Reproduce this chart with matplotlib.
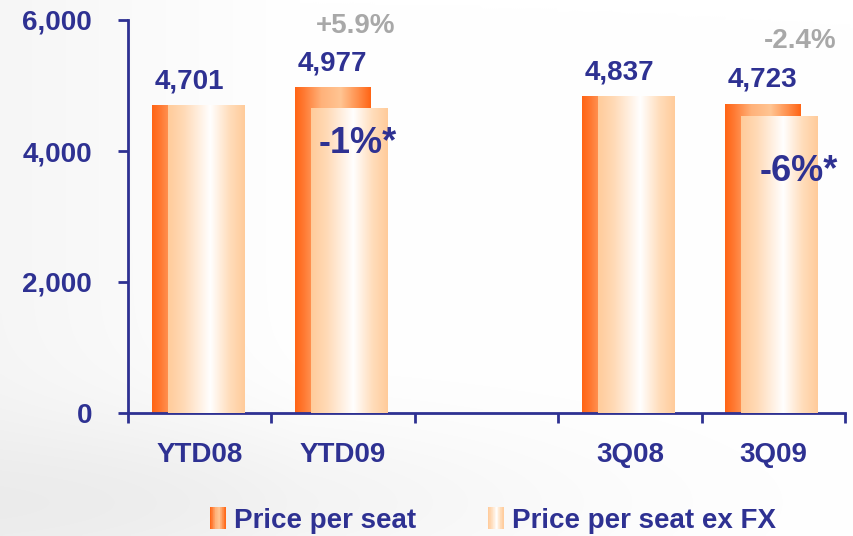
import numpy as np
import matplotlib
matplotlib.use("Agg")
import matplotlib.pyplot as plt
from matplotlib.colors import LinearSegmentedColormap
from matplotlib.patches import Rectangle, Ellipse
from matplotlib.legend_handler import HandlerBase

# ---------------- data ----------------
categories = ["YTD08", "YTD09", "", "3Q08", "3Q09"]
price_per_seat = [4701, 4977, np.nan, 4837, 4723]
price_ex_fx = [4701, 4655, np.nan, 4837, 4535]
value_labels = ["4,701", "4,977", "", "4,837", "4,723"]
change_labels = ["", "+5.9%", "", "", "-2.4%"]
exfx_labels = ["", "-1%*", "", "", "-6%*"]
yticks = [0, 2000, 4000, 6000]
ytick_labels = ["0", "2,000", "4,000", "6,000"]
series_names = ["Price per seat", "Price per seat ex FX"]

# ---------------- style ----------------
plt.rcParams['font.family'] = ['Liberation Sans', 'DejaVu Sans']
plt.rcParams['font.weight'] = 'bold'
BLUE = "#2E3192"
GREY = "#A8A8A8"

orange_cmap = LinearSegmentedColormap.from_list(
    "orange", [(0.0, "#FF6414"), (0.12, "#FF7A33"), (0.35, "#FFB27A"),
               (0.6, "#FFC593"), (0.85, "#FF8A45"), (1.0, "#FF6414")])
light_cmap = LinearSegmentedColormap.from_list(
    "light", [(0.0, "#FFCB9A"), (0.2, "#FFD9B5"), (0.55, "#FFFFFF"),
              (0.8, "#FFDDBB"), (1.0, "#FFCB9A")])

fig = plt.figure(figsize=(8.54, 5.36), dpi=100)
fig.patch.set_facecolor("white")

# faint background: soft left-side shading and lower-left swoosh
bg = fig.add_axes([0, 0, 1, 1], zorder=-10)
bg.axis('off')
xx = np.linspace(0, 1, 300)
yy = np.linspace(0, 1, 200)
X, Y = np.meshgrid(xx, yy)
shade = 0.035 * np.clip(1 - X / 0.35, 0, 1)
swoosh = 0.05 * np.exp(-(((X - 0.2) / 0.45) ** 2 + ((Y - 0.06) / 0.16) ** 2))
val = 1 - shade - swoosh
bg.imshow(np.dstack([val, val, val]), extent=[0, 1, 0, 1], origin='lower',
          aspect='auto', interpolation='bilinear')
bg.set_xlim(0, 1)
bg.set_ylim(0, 1)

ax = fig.add_axes([128 / 854, 1 - 413 / 536, (845 - 128) / 854, (413 - 20) / 536])
ax.set_facecolor("none")
ax.set_zorder(1)

x = np.arange(len(categories))
ow, oo = 0.525, -0.336   # orange bar width / left offset
lw, lo = 0.53, -0.224    # light bar width / left offset

bars_o = ax.bar(x + oo, price_per_seat, width=ow, align='edge', color="#FF6414",
                edgecolor="none", zorder=2)
bars_l = ax.bar(x + lo, price_ex_fx, width=lw, align='edge', color="#FFCB9A",
                edgecolor="none", zorder=3)

grad = np.linspace(0, 1, 256).reshape(1, -1)
for bars, cmap, z in [(bars_o, orange_cmap, 2.1), (bars_l, light_cmap, 3.1)]:
    for b in bars:
        h = b.get_height()
        if not np.isfinite(h):
            continue
        x0 = b.get_x()
        im = ax.imshow(grad, cmap=cmap, extent=[x0, x0 + b.get_width(), 0, h],
                       aspect='auto', zorder=z, interpolation='bilinear')
        im.set_clip_path(b)

ax.set_xlim(-0.5, len(categories) - 0.5)
ax.set_ylim(0, 6000)
ax.set_aspect('auto')

# value labels
for i in range(len(categories)):
    if value_labels[i]:
        ax.annotate(value_labels[i], (x[i] + oo + ow / 2, price_per_seat[i]),
                    xytext=(0, 12), textcoords='offset points', ha='center',
                    va='baseline', fontsize=20, fontweight='bold', color=BLUE, zorder=5)
    if change_labels[i]:
        ax.annotate(change_labels[i], (x[i] + lo + lw / 2, price_per_seat[i]),
                    xytext=(5 if i == 1 else 15, 39 if i == 1 else 40),
                    textcoords='offset points', ha='center', va='baseline',
                    fontsize=20, fontweight='bold', color=GREY, zorder=5)
    if exfx_labels[i]:
        ax.annotate(exfx_labels[i], (x[i] + lo + lw / 2, price_ex_fx[i]),
                    xytext=(6 if i == 1 else 14, -32 if i == 1 else -47),
                    textcoords='offset points', ha='center', va='baseline',
                    fontsize=26, fontweight='bold', color=BLUE, zorder=5)

# axes styling
for s in ["top", "right"]:
    ax.spines[s].set_visible(False)
for s in ["left", "bottom"]:
    ax.spines[s].set_color(BLUE)
    ax.spines[s].set_linewidth(2)

ax.set_yticks(yticks)
ax.set_yticklabels(ytick_labels)
ax.tick_params(axis='y', direction='out', length=7, width=2, color=BLUE,
               labelsize=20, labelcolor=BLUE, pad=19)
ax.set_xticks(x)
ax.set_xticklabels(categories)
ax.set_xticks(np.arange(len(categories) + 1) - 0.5, minor=True)
ax.tick_params(axis='x', which='major', length=0, labelsize=20, labelcolor=BLUE, pad=21)
ax.tick_params(axis='x', which='minor', direction='out', length=7, width=2, color=BLUE)
for t in ax.get_xticklabels() + ax.get_yticklabels():
    t.set_fontweight('bold')


# legend with gradient swatches
class HandlerGradient(HandlerBase):
    def __init__(self, cmap):
        super().__init__()
        self.cmap = cmap

    def create_artists(self, legend, orig_handle, xdescent, ydescent, width,
                       height, fontsize, trans):
        n = 24
        arts = []
        hh = height * 1.25
        y0 = -ydescent - (hh - height) / 2
        for k in range(n):
            r = Rectangle((-xdescent + width * k / n, y0), width / n + 0.3, hh,
                          facecolor=self.cmap((k + 0.5) / n), edgecolor='none',
                          transform=trans)
            arts.append(r)
        return arts


h1 = Rectangle((0, 0), 1, 1)
h2 = Rectangle((0, 0), 1, 1)
leg = fig.legend([h1, h2], series_names, loc='center',
                 bbox_to_anchor=(493 / 854, 1 - 521 / 536), ncol=2, frameon=False,
                 fontsize=20, handlelength=0.55, handleheight=0.6,
                 handletextpad=0.3, columnspacing=2.6,
                 handler_map={h1: HandlerGradient(orange_cmap),
                              h2: HandlerGradient(light_cmap)},
                 prop={'weight': 'bold', 'size': 20})
for t in leg.get_texts():
    t.set_color(BLUE)

fig.savefig("out.png", dpi=100)
